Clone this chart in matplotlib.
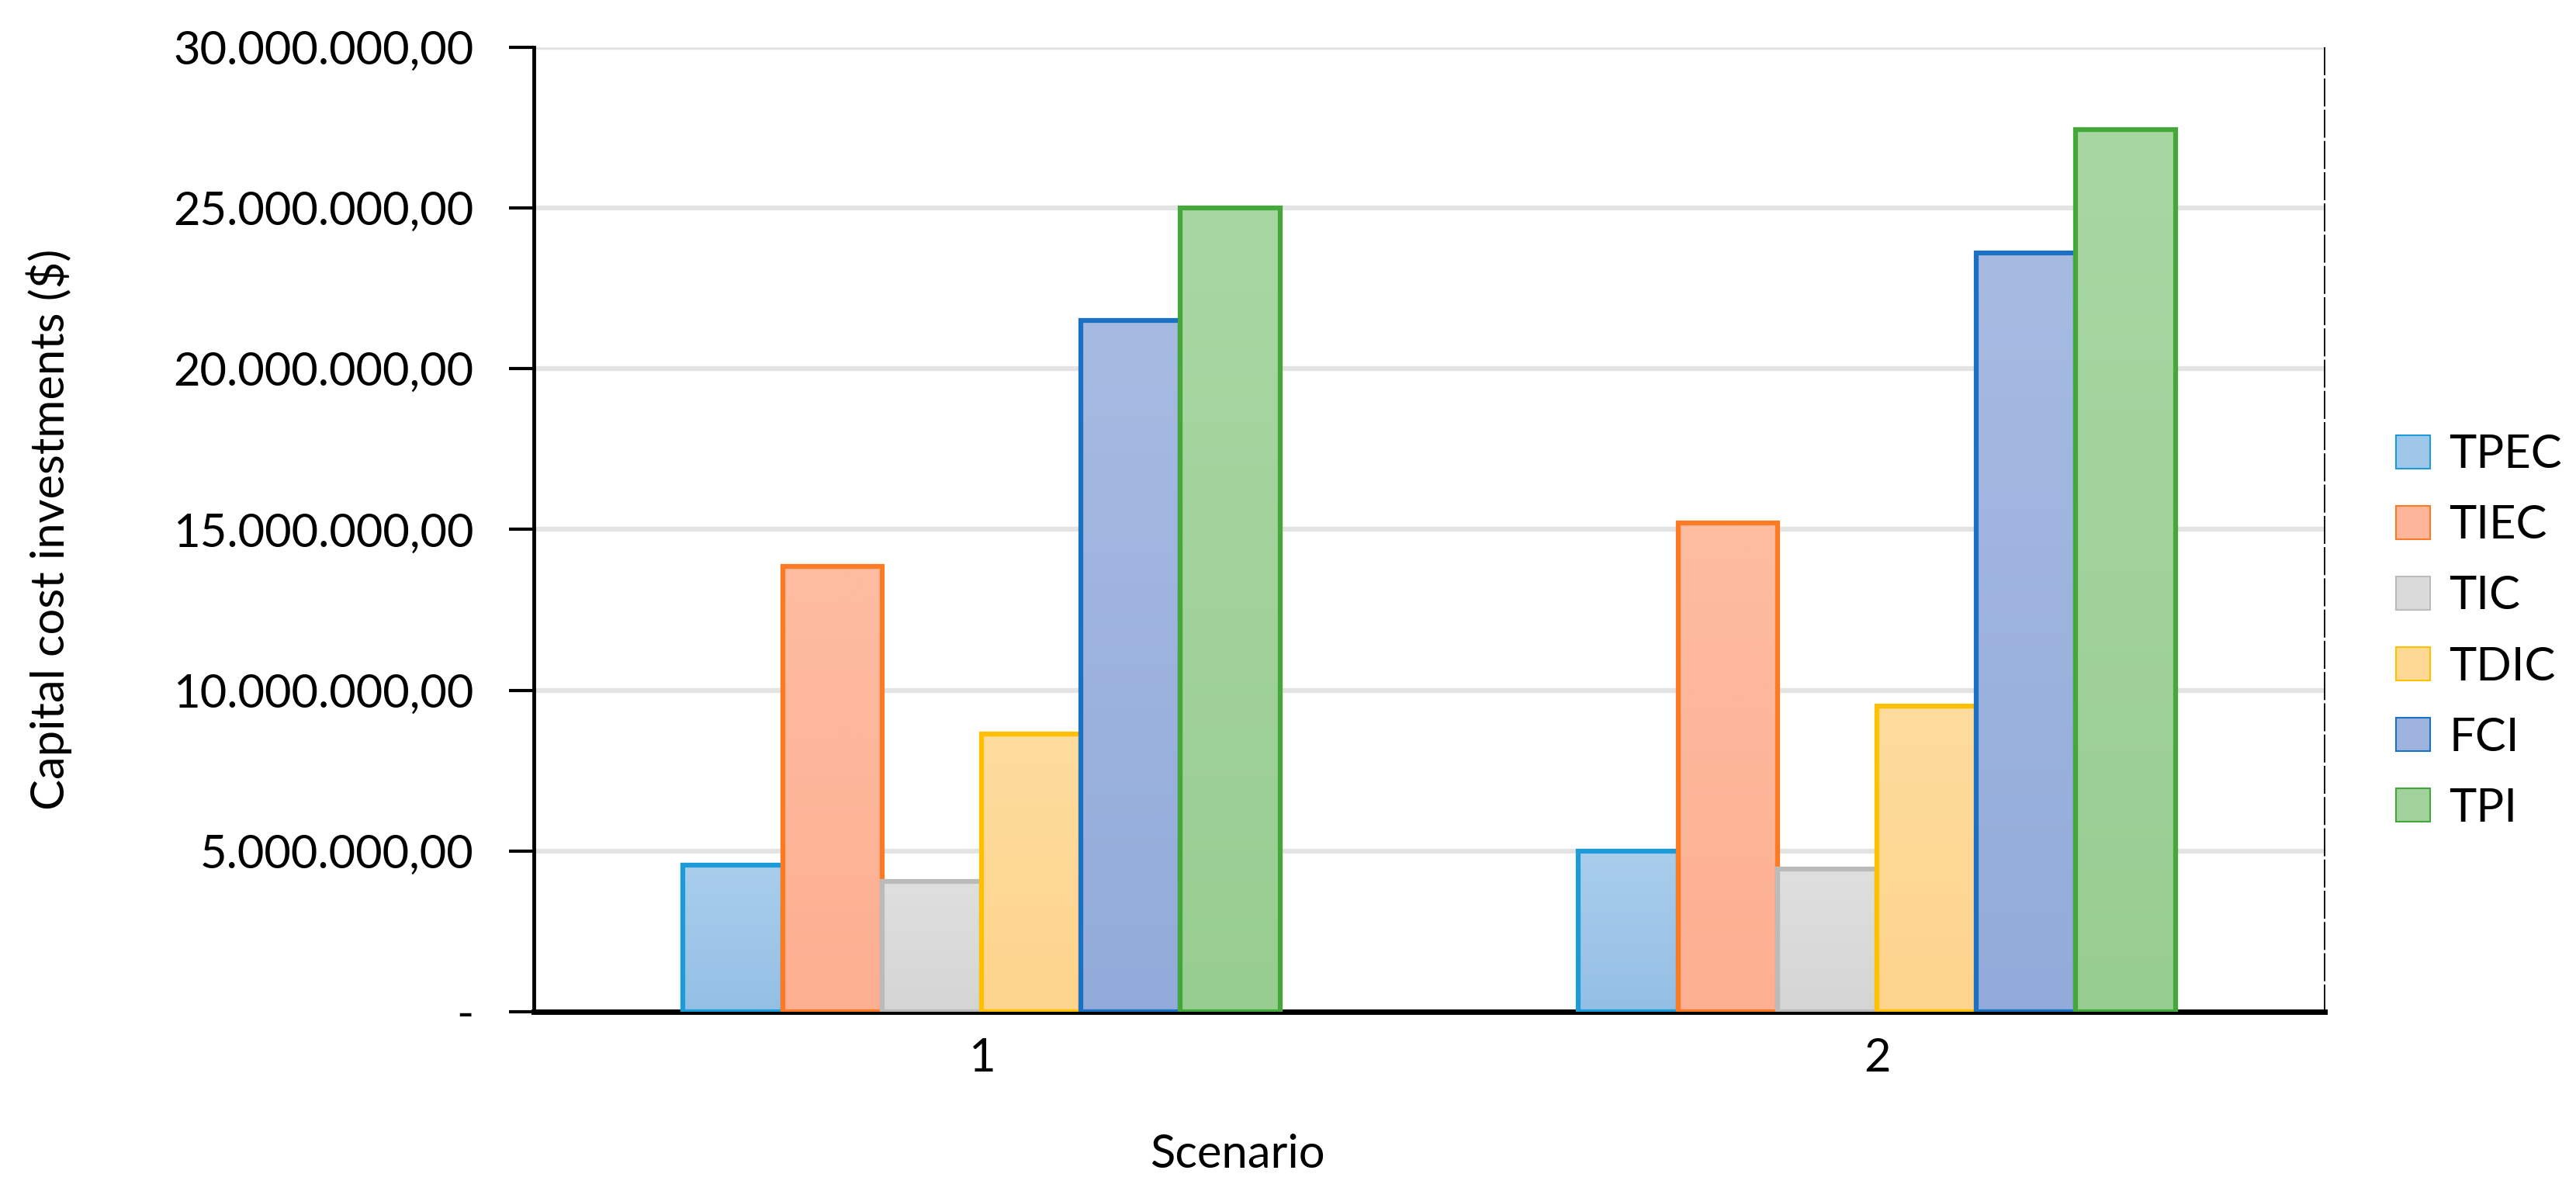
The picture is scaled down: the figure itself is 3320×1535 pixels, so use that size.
import numpy as np
import matplotlib
matplotlib.use("Agg")
import matplotlib.pyplot as plt
from matplotlib.colors import LinearSegmentedColormap
from matplotlib.patches import Patch
from matplotlib.ticker import FuncFormatter

plt.rcParams['font.family'] = ['Lato', 'DejaVu Sans']

scenarios = ['1', '2']
series = ['TPEC', 'TIEC', 'TIC', 'TDIC', 'FCI', 'TPI']
tpec = [4.55e6, 5.00e6]
tiec = [13.85e6, 15.20e6]
tic = [4.05e6, 4.45e6]
tdic = [8.65e6, 9.50e6]
fci = [21.50e6, 23.60e6]
tpi = [25.00e6, 27.45e6]
values = [tpec, tiec, tic, tdic, fci, tpi]

edge_colors = ['#1B9BD7', '#FC7A23', '#BBBBBB', '#FFC000', '#1A70C2', '#43A73A']
top_colors = ['#A9CEEC', '#FDBCA1', '#DFDFDF', '#FEDC9D', '#A7BBE2', '#A9D7A4']
bottom_colors = ['#94BFE5', '#FDAF91', '#D5D5D5', '#FDD48D', '#92ABDA', '#98CD91']

fs = 43
fig = plt.figure(figsize=(33.2, 15.35), dpi=100)
ax = fig.add_axes([0.20723, 0.15049, 0.69518, 0.80977])

x = np.arange(1, len(scenarios) + 1)
width = (2 / 3) / len(series)
grad = np.linspace(0, 1, 256).reshape(-1, 1)

for i, name in enumerate(series):
    offs = (i - (len(series) - 1) / 2) * width
    bars = ax.bar(x + offs, values[i], width, facecolor='none',
                  edgecolor=edge_colors[i], linewidth=4.5, zorder=4 + 2 * i)
    cmap = LinearSegmentedColormap.from_list(name, [bottom_colors[i], top_colors[i]])
    for b in bars:
        ax.imshow(grad, cmap=cmap, origin='lower', aspect='auto',
                  extent=[b.get_x(), b.get_x() + b.get_width(), 0, b.get_height()],
                  zorder=3 + 2 * i)

ax.set_xlim(0.5, 2.5)
ax.set_ylim(0, 30e6)
ax.set_yticks(np.arange(0, 30e6 + 1, 5e6))
ax.set_xticks(x)
ax.set_xticklabels(scenarios)


def fmt(v, pos):
    if v == 0:
        return '-'
    s = f"{v:,.2f}"
    return s.replace(',', 'X').replace('.', ',').replace('X', '.')


ax.yaxis.set_major_formatter(FuncFormatter(fmt))
ax.tick_params(axis='y', length=23, width=3, pad=33, labelsize=fs, direction='out')
ax.tick_params(axis='x', length=0, pad=24, labelsize=fs)

ax.set_axisbelow(True)
ax.grid(axis='y', color='#E3E3E3', linewidth=4.5, zorder=0)

ax.spines['top'].set_visible(False)
ax.spines['left'].set_linewidth(3.5)
ax.spines['bottom'].set_linewidth(5)
ax.spines['right'].set_linewidth(1.3)
ax.spines['right'].set_linestyle((0, (19, 3.3)))

fig.text(63 / 3320, 0.5557, 'Capital cost investments ($)', rotation=90,
         ha='center', va='center', fontsize=fs)
fig.text(1595 / 3320, 1 - 1505 / 1535, 'Scenario', ha='center', va='baseline', fontsize=fs)

handles = [Patch(facecolor=(np.array(matplotlib.colors.to_rgb(top_colors[i])) +
                            np.array(matplotlib.colors.to_rgb(bottom_colors[i]))) / 2,
                 edgecolor=edge_colors[i], linewidth=1.5) for i in range(len(series))]
fig.legend(handles, series, loc='center left', bbox_to_anchor=(3088 / 3320, 1 - 814 / 1535),
           frameon=False, fontsize=fs, handlelength=0.74, handleheight=0.74,
           handletextpad=0.4, labelspacing=0.62, borderpad=0, borderaxespad=0)

fig.savefig('out.png', dpi=100)
